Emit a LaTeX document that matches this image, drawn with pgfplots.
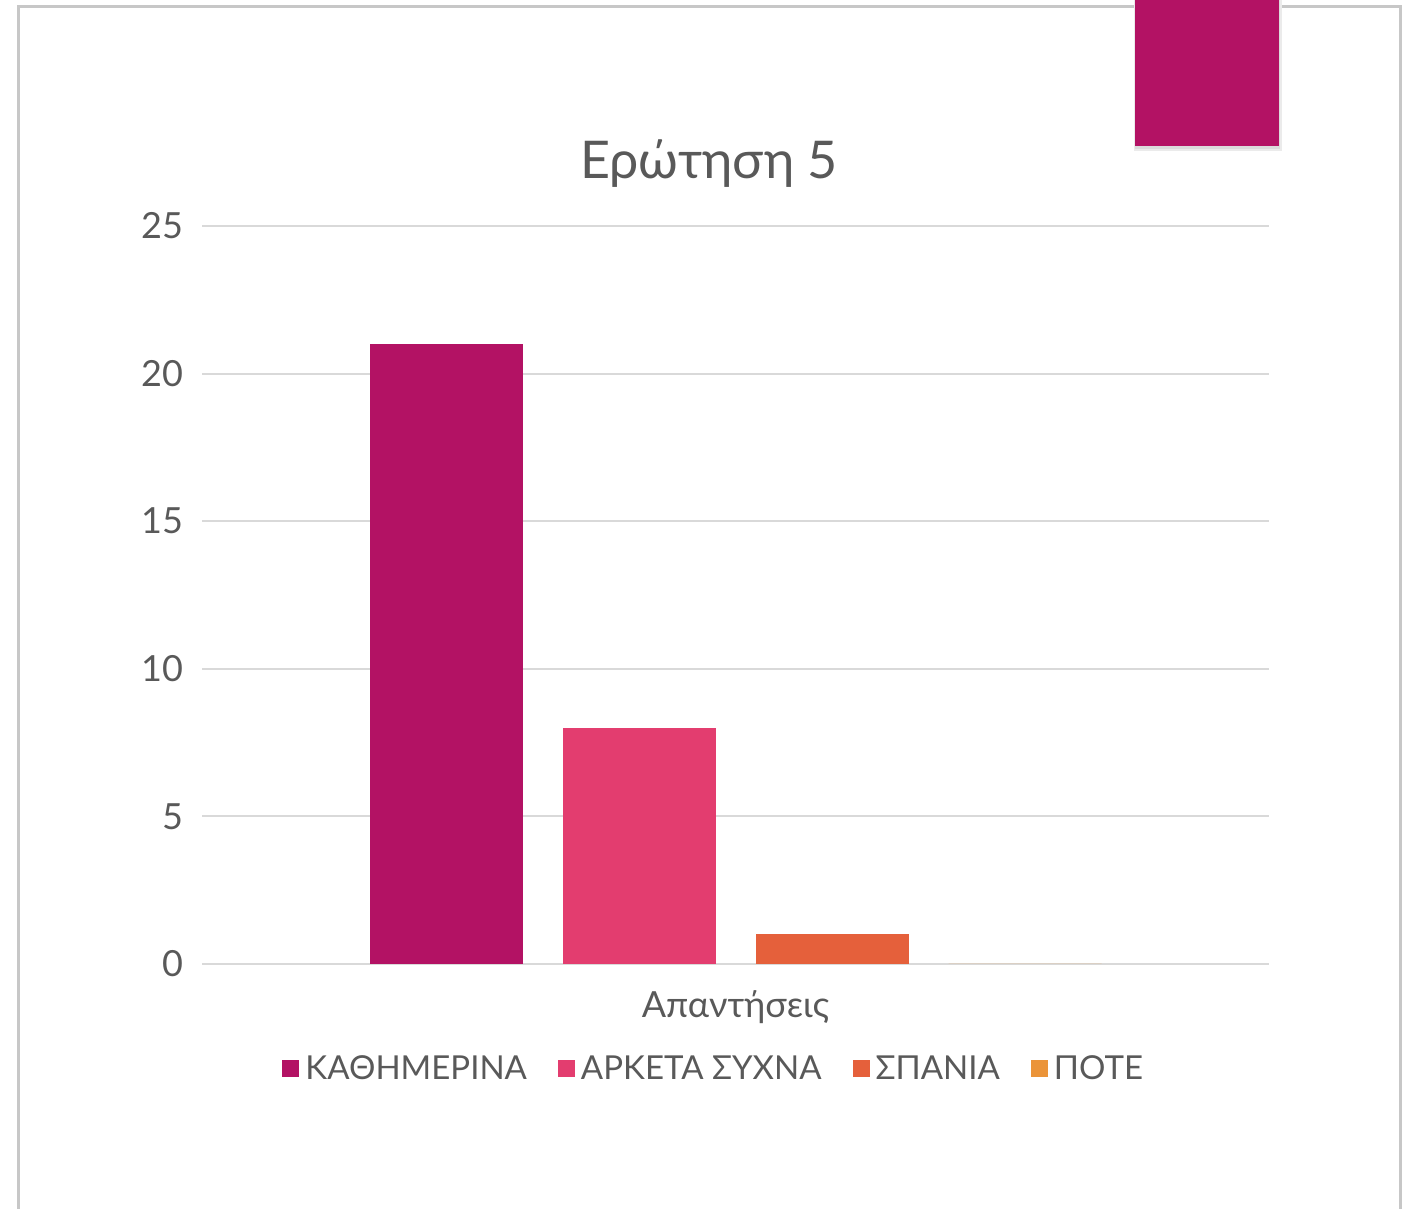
\documentclass[border=0pt]{standalone}
\usepackage{fontspec}
\setmainfont{Lato}
\usepackage{pgfplots}
\pgfplotsset{compat=1.18}

\definecolor{txt}{HTML}{595959}
\definecolor{gridc}{HTML}{D9D9D9}
\definecolor{cA}{HTML}{B31264}
\definecolor{cB}{HTML}{E33D6F}
\definecolor{cC}{HTML}{E5603B}
\definecolor{cD}{HTML}{EB9439}

\begin{document}
\begin{tikzpicture}[x=1pt,y=1pt]
  % page 1410x1209 px at 0.5pt per px
  \useasboundingbox (0pt,0pt) rectangle (705pt,604.5pt);
  % slide frame
  \draw[color=black!22, line width=1.5pt] (9pt,-5pt) -- (9pt,601pt) -- (700pt,601pt) -- (700pt,-5pt);
  % accent block with a soft shadow
  \fill[black!8] (567pt,529pt) rectangle (641pt,604.5pt);
  \fill[black!14] (567.5pt,530pt) rectangle (640pt,604.5pt);
  \fill[cA] (567.5pt,531.5pt) rectangle (639.5pt,604.5pt);

  \node[text=txt, font=\fontsize{26}{30}\selectfont] at (354.5pt,522.5pt) {Ερώτηση 5};

  \begin{axis}[
    at={(101pt,122.5pt)}, anchor=south west,
    scale only axis,
    width=533.5pt, height=369pt,
    ybar=20pt, bar width=76.5pt,
    xmin=-1, xmax=1, xtick=\empty,
    ymin=0, ymax=25, ytick={0,5,...,25},
    axis line style={draw=none},
    major tick length=0pt,
    ymajorgrids,
    grid style={draw=gridc, line width=1pt},
    /pgf/number format/assume math mode=true,
    yticklabel style={text=txt, font=\fontsize{18}{20}\selectfont, xshift=-6pt},
    xlabel={Απαντήσεις},
    xlabel style={at={(axis description cs:0.5,0)}, anchor=north, yshift=-10pt,
      text=txt, font=\fontsize{18}{20}\selectfont},
    legend columns=4,
    legend style={at={(axis description cs:0.4815,-0.142)}, anchor=center,
      draw=none, fill=none, text=txt, font=\fontsize{16.5}{19}\selectfont,
      nodes={inner xsep=3pt},
      /tikz/every even column/.append style={column sep=12.5pt}},
    legend image code/.code={\fill[#1] (0pt,-4.25pt) rectangle (8.5pt,4.25pt);},
  ]
  \addplot[fill=cA, draw=none] coordinates {(0,21)};
  \addlegendentry{ΚΑΘΗΜΕΡΙΝΑ}
  \addplot[fill=cB, draw=none] coordinates {(0,8)};
  \addlegendentry{ΑΡΚΕΤΑ ΣΥΧΝΑ}
  \addplot[fill=cC, draw=none] coordinates {(0,1)};
  \addlegendentry{ΣΠΑΝΙΑ}
  \addplot[fill=cD, draw=none] coordinates {(0,0)};
  \addlegendentry{ΠΟΤΕ}
  \end{axis}
\end{tikzpicture}
\end{document}
